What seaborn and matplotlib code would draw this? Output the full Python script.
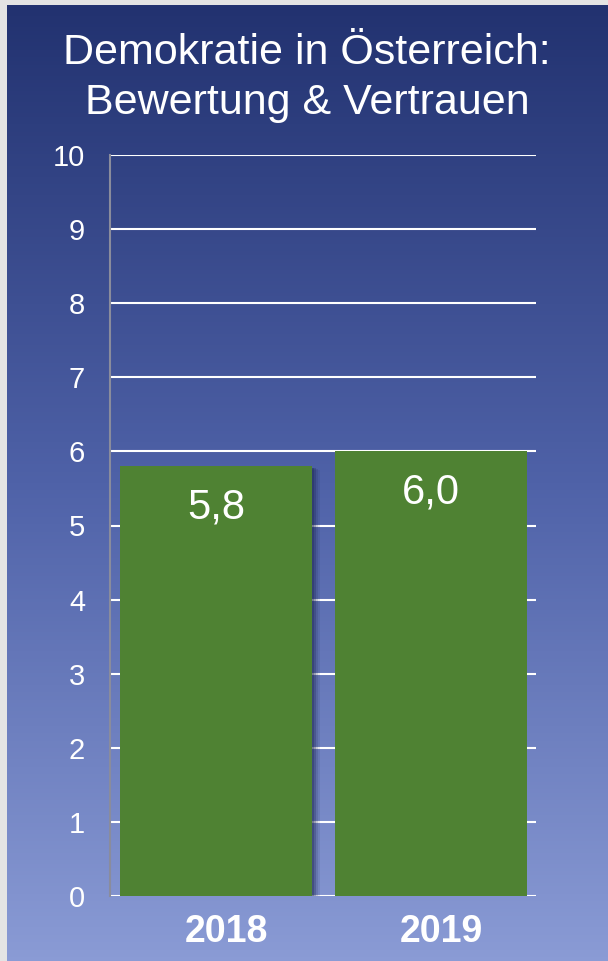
import numpy as np
import seaborn as sns
import matplotlib
matplotlib.use('Agg')
import matplotlib.pyplot as plt
import matplotlib.patheffects as pe
import matplotlib.transforms as mtransforms
from matplotlib.colors import LinearSegmentedColormap

# Daten
jahre = ['2018', '2019']
werte = [5.8, 6.0]
titel = 'Demokratie in Österreich:\nBewertung & Vertrauen'
y_ticks = list(range(0, 11))

sns.set_style('white')
plt.rcParams['font.family'] = ['Liberation Sans', 'DejaVu Sans']

fig = plt.figure(figsize=(6.08, 9.61), dpi=100)
fig.patch.set_facecolor('#e4e4e4')

# Hintergrund mit Farbverlauf
bg = fig.add_axes([7 / 608, 0, 1 - 7 / 608, 1 - 5 / 961])
cmap = LinearSegmentedColormap.from_list('bg', ['#223270', '#4f62a8', '#8a9bd5'])
grad = np.linspace(0, 1, 256).reshape(-1, 1)
bg.imshow(grad, aspect='auto', cmap=cmap, extent=[0, 1, 0, 1], origin='upper')
bg.set_axis_off()

ax = fig.add_axes([110 / 608, 65 / 961, 426 / 608, 741 / 961])
ax.set_facecolor('none')

sns.barplot(x=jahre, y=werte, color='#4f8233', saturation=1, width=0.893,
            linewidth=0, edgecolor='none', ax=ax, zorder=3)

# Schatten nur am ersten Balken
ax.patches[0].set_path_effects([
    pe.SimplePatchShadow(offset=(6, -2.5), shadow_rgbFace='#1c2550', alpha=0.1),
    pe.SimplePatchShadow(offset=(4.5, -2), shadow_rgbFace='#1c2550', alpha=0.15),
    pe.SimplePatchShadow(offset=(3, -1.5), shadow_rgbFace='#1c2550', alpha=0.25),
    pe.SimplePatchShadow(offset=(1.5, -1), shadow_rgbFace='#1c2550', alpha=0.3),
    pe.Normal()])

for i, v in enumerate(werte):
    ax.text(i, v - 0.56, f'{v:.1f}'.replace('.', ','), ha='center', va='center',
            color='white', fontsize=30, zorder=5)

ax.set_ylim(0, 10)
ax.set_xlim(-0.493, 1.488)
ax.set_yticks(y_ticks)
ax.yaxis.grid(True, color='white', linewidth=1.5)
ax.set_axisbelow(True)

for s in ['top', 'right', 'bottom']:
    ax.spines[s].set_visible(False)
ax.spines['left'].set_color('#8a8c9c')
ax.spines['left'].set_linewidth(1.5)

ax.tick_params(axis='y', colors='#8a8c9c', length=7, width=1.5, pad=11,
               labelcolor='white', labelsize=21)
ax.tick_params(axis='x', length=0, pad=13, labelcolor='white', labelsize=27)
verschiebung = mtransforms.ScaledTranslation(10 / 100, 0, fig.dpi_scale_trans)
for lbl in ax.get_xticklabels():
    lbl.set_fontweight('bold')
    lbl.set_transform(lbl.get_transform() + verschiebung)
ax.set_xlabel('')
ax.set_ylabel('')

fig.text(307 / 608, 1 - 33 / 961, titel, ha='center', va='top', color='white',
         fontsize=31, linespacing=1.32)

fig.savefig('out.png', dpi=100, facecolor=fig.get_facecolor())
